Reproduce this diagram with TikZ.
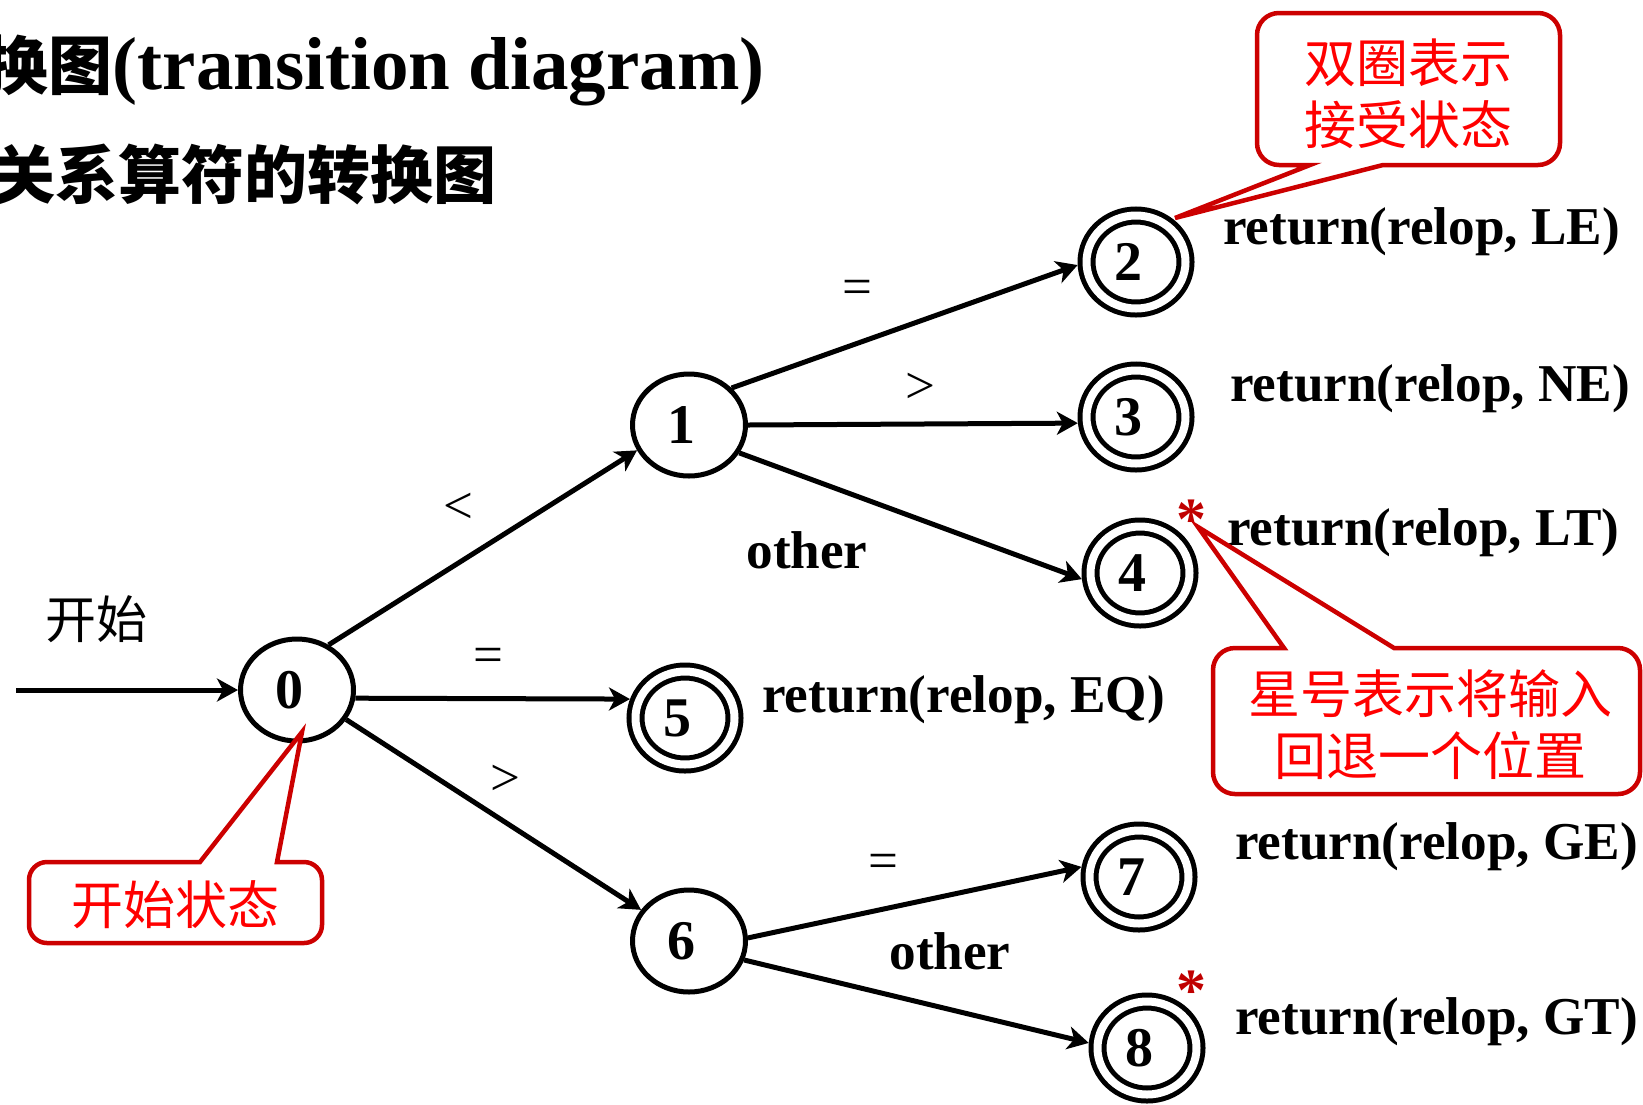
\documentclass[tikz,border=0pt]{standalone}
\usepackage{fontspec}
\setmainfont{Liberation Serif}
\newfontfamily\cjk{Noto Sans CJK SC}
\usetikzlibrary{shapes.geometric,arrows.meta}
\definecolor{cborder}{RGB}{204,0,0}
\definecolor{ctext}{RGB}{255,0,0}
\definecolor{cstar}{RGB}{192,0,0}
\begin{document}
\begin{tikzpicture}[x=1pt,y=-1pt,
  stnode/.style={ellipse, draw, line width=5pt, minimum width=113pt, minimum height=102pt, inner sep=0pt, outer sep=2.5pt, font=\fontsize{56}{60}\selectfont\bfseries, execute at begin node=\kern-8pt, execute at end node=\kern8pt},
  accept/.style={stnode, double, double distance=8pt, minimum width=99pt, minimum height=93pt, outer sep=9pt},
  conn/.style={line width=5pt, -{Stealth[length=21pt,width=23pt,inset=6pt]}},
  sym/.style={font=\fontsize{53}{60}\selectfont, inner sep=0pt},
  lbl/.style={font=\fontsize{53.2}{60}\selectfont\bfseries, inner sep=0pt},
  callout/.style={draw=cborder, line width=4.5pt, fill=white, line join=miter},
  ctxt/.style={text=ctext, font=\cjk\fontsize{52}{62}\selectfont, align=center, inner sep=0pt},
  asterisk/.style={text=cstar, font=\fontsize{60}{60}\selectfont\bfseries, inner sep=0pt}
]
\useasboundingbox (0,0) rectangle (1643,1104);
\clip (0,0) rectangle (1643,1104);

% title
\node[anchor=base east, inner sep=0pt] (title) at (765,89)
  {{\cjk\bfseries\fontsize{64}{70}\selectfont 换图}{\fontsize{75}{80}\selectfont\bfseries (transition diagram)}};
\node[anchor=base east, inner sep=0pt] (subtitle) at (497,198)
  {\cjk\bfseries\fontsize{63}{70}\selectfont 关系算符的转换图};

% states
\node[stnode] (n0) at (297,690) {0};
\node[stnode] (n1) at (689,425) {1};
\node[stnode] (n6) at (689,941) {6};
\node[accept] (n2) at (1136,262) {2};
\node[accept] (n3) at (1136,417) {3};
\node[accept] (n4) at (1140,573) {4};
\node[accept] (n5) at (685,718) {5};
\node[accept] (n7) at (1139,877) {7};
\node[accept] (n8) at (1147,1048) {8};

% start
\coordinate (s) at (16,690);
\draw[conn] (s) -- (n0.west);
\node[font=\cjk\fontsize{51}{60}\selectfont, inner sep=0pt] (st) at (96,619) {开始};

% transitions
\draw[conn] (n0.55) -- (n1.206);
\draw[conn] (n0.-8) -- (n5.161);
\draw[conn] (n0.-31) -- (n6.147);
\draw[conn] (n1.41) -- (n2.183);
\draw[conn] (n1.0) -- (n3.186);
\draw[conn] (n1.-29) -- (n4.186);
\draw[conn] (n6.3) -- (n7.170);
\draw[conn] (n6.-19) -- (n8.175);

% edge labels
\node[sym] (l01) at (458,508) {<};
\node[sym] (l05) at (488,660) {=};
\node[sym] (l06) at (505,780) {>};
\node[sym] (l12) at (857,292) {=};
\node[sym] (l13) at (920,388) {>};
\node[lbl] (l14) at (807,550) {other};
\node[sym] (l67) at (883,866) {=};
\node[lbl] (l68) at (950,951) {other};

% return labels
\node[lbl, anchor=west] (r2) at (1223,232) {return(relop, LE)};
\node[lbl, anchor=west] (r3) at (1230,389) {return(relop, NE)};
\node[lbl, anchor=west] (r4) at (1227,533) {return(relop, LT)};
\node[lbl, anchor=west] (r5) at (762,700) {return(relop, EQ)};
\node[lbl, anchor=west] (r7) at (1235,847) {return(relop, GE)};
\node[lbl, anchor=west] (r8) at (1235,1022) {return(relop, GT)};

% asterisks
\node[asterisk] (a4) at (1191,520) {*};
\node[asterisk] (a8) at (1191,991) {*};

% callouts
\draw[callout] (1175,218) -- (1310,165) -- (1295,165) [rounded corners=22pt] -- (1257,165) -- (1257,13) -- (1560,13) -- (1560,165) -- (1480,165) [sharp corners] -- (1383,165) -- cycle;
\node[ctxt] (c1) at (1408,94) {双圈表示\\接受状态};

\draw[callout] (1198,527) -- (1394,648) -- (1420,648) [rounded corners=22pt] -- (1640,648) -- (1640,794) -- (1213,794) -- (1213,648) -- (1260,648) [sharp corners] -- (1284,648) -- cycle;
\node[ctxt] (c2) at (1430,725) {星号表示将输入\\回退一个位置};

\draw[callout] (302,732) -- (277,862) -- (290,862) [rounded corners=18pt] -- (322,862) -- (322,943) -- (29,943) -- (29,862) -- (180,862) [sharp corners] -- (200,862) -- cycle;
\node[ctxt] (c3) at (175,905) {开始状态};
\end{tikzpicture}
\end{document}
